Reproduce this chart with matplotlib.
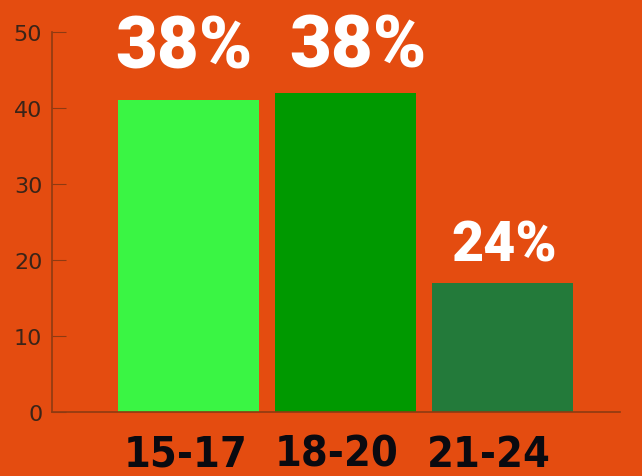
import matplotlib.pyplot as plt
from matplotlib.transforms import ScaledTranslation

ages = ['15-17', '18-20', '21-24']
heights = [41, 42, 17]
labels = ['38%', '38%', '24%']
colors = ['#3AF544', '#009900', '#237A3A']
yticks = [0, 10, 20, 30, 40, 50]

bg = '#E44C10'
fig = plt.figure(figsize=(6.42, 4.77), dpi=100, facecolor=bg)
ax = fig.add_axes([0.081, 0.134, 0.885, 0.797], facecolor=bg)

x = list(range(len(ages)))
ax.bar(x, heights, width=0.9, color=colors)
ax.set_xlim(-0.87, 2.75)
ax.set_ylim(0, 50)

# percentage labels above bars (baseline offsets in px)
sizes = [52, 52, 40]
offsets = [33, 26, 22]
shift = [-5, 12, 2]
for i, (h, lab) in enumerate(zip(heights, labels)):
    ax.annotate(lab, (i, h), xytext=(shift[i], offsets[i]), textcoords='offset pixels',
                ha='center', va='baseline', color='white', fontsize=sizes[i],
                fontweight='black', family='Roboto')

for s in ['top', 'right']:
    ax.spines[s].set_visible(False)
for s in ['left', 'bottom']:
    ax.spines[s].set_color('#8E3A12')
    ax.spines[s].set_linewidth(1.2)

ax.set_yticks(yticks)
ax.tick_params(axis='y', direction='in', length=10, color='#8E3A12',
               labelcolor='#3A2418', labelsize=16, pad=7)
ax.set_xticks(x)
ax.set_xticklabels(ages, fontsize=31, fontweight='bold', family='DejaVu Sans',
                   fontstretch='condensed', color='#0A0A10')
ax.tick_params(axis='x', length=0, pad=15)
for t, dx in zip(ax.get_xticklabels(), [-3, -9, -14]):
    t.set_transform(t.get_transform() + ScaledTranslation(dx / 100, 0, fig.dpi_scale_trans))

fig.savefig('out.png', dpi=100, facecolor=bg)
